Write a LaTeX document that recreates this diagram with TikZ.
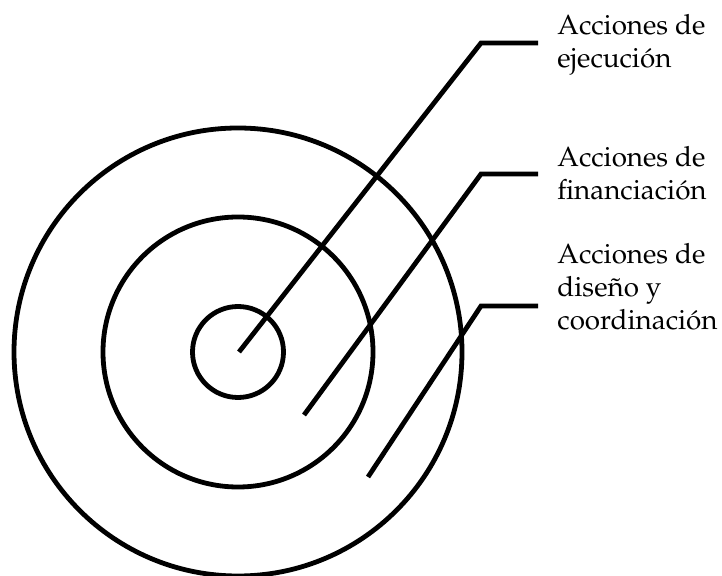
\documentclass[tikz,border=0pt]{standalone}
\usepackage[T1]{fontenc}
\usepackage{mathpazo}
\usetikzlibrary{positioning}
\tikzset{
  ring/.style={
    draw=black,
    line width=2.4pt
  },
  leader/.style={
    draw=black,
    line width=2.4pt
  }
}

\begin{document}
\begin{tikzpicture}[
  x=0.5pt, y=-0.5pt,
  ringtext/.style={anchor=base west, align=left, inner xsep=9.5pt, inner ysep=0pt, font=\fontsize{13.9pt}{16.5pt}\selectfont}
]
  \useasboundingbox (0,0) rectangle (722,576);

  % Rings
  \coordinate (centre) at (238,352);
  \draw[ring] (centre) circle[radius=112pt];
  \draw[ring] (centre) circle[radius=67.5pt];
  \draw[ring] (centre) circle[radius=22.75pt];

  % Labels (anchored at the baseline of the last line)
  \node[ringtext] (ejecucion) at (538,68) {Acciones de\\ejecuci\'on};
  \node[ringtext] (financiacion) at (538,200) {Acciones de\\financiaci\'on};
  \node[ringtext] (diseno) at (538,330) {Acciones de\\dise\~no y\\coordinaci\'on};

  % Leaders
  \coordinate (s1) at (239,352);
  \coordinate (k1) at (481,43);
  \coordinate (s2) at (304,415);
  \coordinate (k2) at (481,174);
  \coordinate (s3) at (368,477);
  \coordinate (k3) at (481,306);

  \draw[leader] (s1) -- (k1) -- (k1 -| ejecucion.west);
  \draw[leader] (s2) -- (k2) -- (k2 -| financiacion.west);
  \draw[leader] (s3) -- (k3) -- (k3 -| diseno.west);
\end{tikzpicture}
\end{document}
